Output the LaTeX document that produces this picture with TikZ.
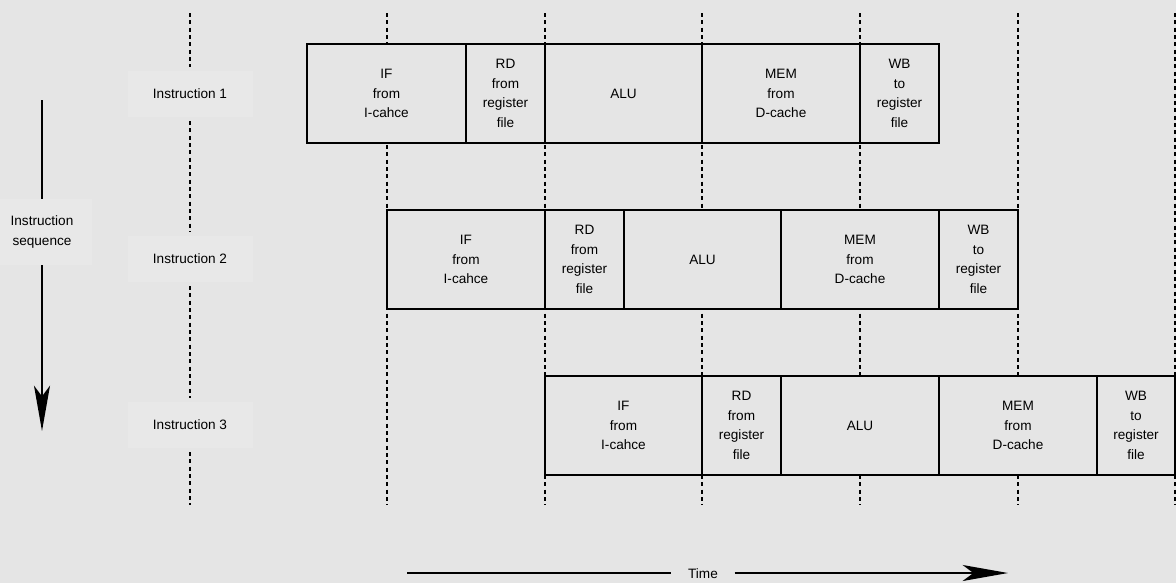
\documentclass[tikz,border=0pt]{standalone}
\usepackage{fontspec}
\setmainfont{Liberation Sans}
\usetikzlibrary{arrows.meta}
\definecolor{bg}{RGB}{229,229,229}
\definecolor{lblfill}{RGB}{232,232,232}
\newcommand\stg[6]{%
  \pgfmathsetmacro\stgw{(#3-#2)*0.75}%
  \pgfmathsetmacro\stgh{(#5-#4)*0.75}%
  \node[stagebox, minimum width=\stgw pt, minimum height=\stgh pt] (#1) at ({(#2+#3)/2},{(#4+#5)/2}) {#6};}
\begin{document}
\begin{tikzpicture}[x=0.75pt,y=-0.75pt,
  txt/.style={font=\fontsize{10.2pt}{14.6pt}\selectfont},
  stagebox/.style={txt, draw=black, line width=1.5pt, fill=bg, inner sep=0pt, align=center},
  lbl/.style={txt, fill=lblfill, inner sep=0pt, align=center, outer sep=3pt, minimum width=93.75pt, minimum height=34.5pt},
  guide/.style={line width=1.6pt, dash pattern=on 3pt off 2.5pt},
  axisline/.style={line width=1.5pt},
  bigarrow/.style={-{Stealth[length=34pt,width=12pt,inset=8pt]}}]
\fill[bg] (0,0) rectangle (1176,583);
\useasboundingbox (0,0) rectangle (1176,583);

% guide lines
\foreach \gx [count=\k] in {387,545,702,860,1018,1175}{
  \coordinate (gt\k) at (\gx,13);
  \coordinate (gb\k) at (\gx,505);
  \draw[guide] (gt\k) -- (gb\k);
}

% instruction labels
\node[lbl] (i1) at (190,94) {Instruction 1};
\node[lbl] (i2) at (190,259) {Instruction 2};
\node[lbl] (i3) at (190,425) {Instruction 3};
\coordinate (g0t) at (190,13);
\coordinate (g0b) at (190,505);
\draw[guide] (g0t) -- (i1);
\draw[guide] (i1) -- (i2);
\draw[guide] (i2) -- (i3);
\draw[guide] (i3) -- (g0b);

% instruction sequence arrow
\node[txt, fill=lblfill, inner sep=0pt, align=center, minimum width=75pt, minimum height=49.5pt] (seq) at (42,232) {Instruction\\sequence};
\coordinate (seqtop) at (42,100);
\coordinate (seqend) at (42,431);
\draw[axisline] (seqtop) -- (seq.north);
\draw[axisline, bigarrow] (seq.south) -- (seqend);

% time arrow
\node[txt, fill=bg, inner sep=0pt, minimum width=47pt, minimum height=14pt] (time) at (703,574) {Time};
\coordinate (ts) at (407,573);
\coordinate (te) at (1008,573);
\draw[axisline] (ts) -- (ts -| time.west);
\draw[axisline, bigarrow] (time.east |- te) -- (te);

% row 1
\stg{a1}{307}{466}{44}{143}{IF\\from\\I-cahce}
\stg{a2}{466}{545}{44}{143}{RD\\from\\register\\file}
\stg{a3}{545}{702}{44}{143}{ALU}
\stg{a4}{702}{860}{44}{143}{MEM\\from\\D-cache}
\stg{a5}{860}{939}{44}{143}{WB\\to\\register\\file}
% row 2
\stg{b1}{387}{545}{210}{309}{IF\\from\\I-cahce}
\stg{b2}{545}{624}{210}{309}{RD\\from\\register\\file}
\stg{b3}{624}{781}{210}{309}{ALU}
\stg{b4}{781}{939}{210}{309}{MEM\\from\\D-cache}
\stg{b5}{939}{1018}{210}{309}{WB\\to\\register\\file}
% row 3
\stg{c1}{545}{702}{376}{475}{IF\\from\\I-cahce}
\stg{c2}{702}{781}{376}{475}{RD\\from\\register\\file}
\stg{c3}{781}{939}{376}{475}{ALU}
\stg{c4}{939}{1097}{376}{475}{MEM\\from\\D-cache}
\stg{c5}{1097}{1175}{376}{475}{WB\\to\\register\\file}
\end{tikzpicture}
\end{document}
